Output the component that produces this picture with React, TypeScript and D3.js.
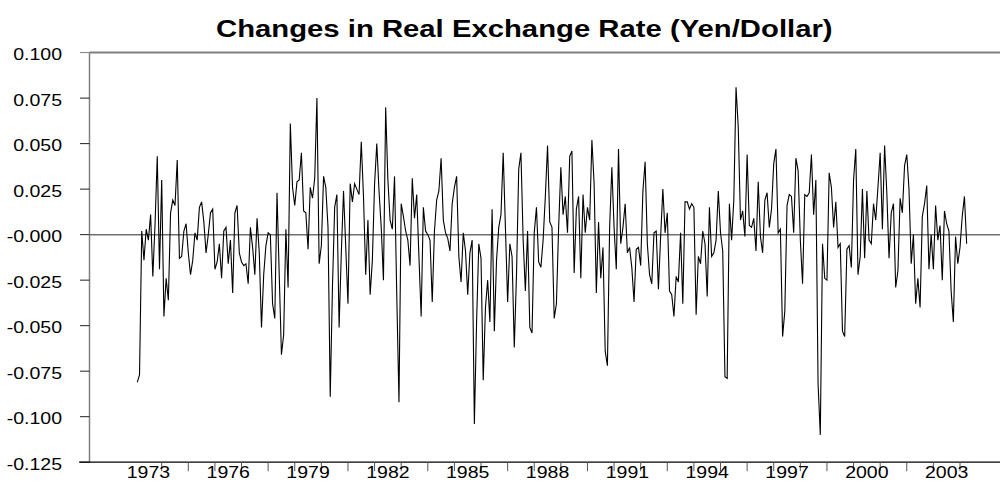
import * as d3 from "d3";

// monthly log changes, first observation 1973:02
const changes: number[] = [
  -0.081, -0.077, 0.002, -0.014, 0.003, -0.003, 0.011, -0.023, 0.006, 0.043,
  -0.019, 0.030, -0.045, -0.024, -0.036, 0.012, 0.019, 0.016, 0.041, -0.013,
  -0.012, 0.002, 0.006, -0.010, -0.022, -0.014, 0.001, -0.003, 0.015, 0.018,
  0.007, -0.010, 0.000, 0.012, 0.014, -0.019, -0.015, -0.005, -0.024, 0.002,
  0.004, -0.016, -0.003, -0.032, 0.012, 0.016, -0.010, -0.015, -0.017, -0.016,
  -0.027, 0.004, -0.007, -0.022, 0.009, -0.010, -0.051, -0.022, -0.006, 0.001,
  0.000, -0.038, -0.046, 0.023,
  -0.022, -0.066, -0.055, 0.003, -0.029, 0.061, 0.026, 0.016, 0.029, 0.030,
  0.045, 0.013, 0.012, -0.008, 0.026, 0.020, 0.031, 0.075, -0.016, -0.006,
  0.032, 0.026, 0.004, -0.089, -0.029, 0.015, 0.022, -0.051, -0.010, 0.024,
  -0.007, -0.038, 0.028, 0.018, 0.028, 0.025, 0.022, 0.051, 0.021, -0.022,
  0.008, -0.033, -0.014, 0.028, 0.050, 0.024, 0.004, -0.025, 0.070, 0.030,
  0.008, 0.003, 0.032, -0.033, -0.092, 0.017, 0.010, 0.002, -0.003, -0.017,
  0.031, 0.009, 0.022, -0.012, -0.045, 0.015, 0.002, 0.000, -0.003, -0.037,
  0.002, 0.019, 0.024, 0.042, 0.008, 0.001, -0.002, -0.009, 0.017, 0.026,
  0.032, -0.012, -0.026, 0.001, -0.009, -0.033,
  -0.010, -0.003, -0.104, -0.048,
  -0.005, -0.013, -0.080, -0.040, -0.025, -0.048, 0.014, -0.053, -0.014, 0.004,
  0.011, 0.045, 0.004, -0.037, -0.005, -0.012, -0.062, -0.022, 0.036, 0.045,
  -0.003, -0.031, 0.002, -0.051, -0.054, 0.001, 0.015, -0.015, -0.018, -0.003,
  0.021, 0.049, 0.007, 0.004, -0.046, -0.038, 0.004, 0.037, 0.011, 0.021,
  0.001, 0.043, 0.046, -0.021, 0.014, 0.021, -0.024, 0.022, 0.001, 0.015,
  0.008, 0.052, 0.028, -0.032, 0.007, -0.024, -0.007, -0.064, -0.072, 0.004,
  0.037, 0.004, -0.019, 0.047, -0.005, 0.004, 0.017, -0.010, -0.007, -0.018,
  -0.037, -0.008, -0.007, -0.017, 0.024, 0.040, -0.005, -0.022, -0.027, 0.001,
  0.002, -0.030,
  -0.001, 0.025, 0.001, 0.012, -0.031, -0.033, -0.045, -0.023, -0.026, 0.001,
  -0.038, 0.018, 0.018, 0.014, 0.017, 0.015, -0.044, -0.012, -0.016, 0.002,
  -0.005, -0.034, 0.015, -0.012, -0.010, -0.003, 0.024, 0.001, -0.009, -0.078,
  -0.079, 0.017, -0.003, 0.019, 0.081, 0.059, 0.008, 0.013, -0.001, 0.044,
  0.005, 0.004, 0.009, -0.009, 0.029, -0.001, -0.010, 0.019, 0.023, 0.004,
  0.014, 0.039, 0.047, 0.001, 0.003, -0.056, -0.042, 0.016, 0.022, 0.021,
  0.001, 0.042, 0.035, -0.003, -0.027, 0.022, 0.021, 0.023, 0.044, 0.011,
  0.030, -0.082, -0.110, -0.005, -0.024, -0.025, 0.034, 0.026, 0.004, 0.018,
  -0.007, -0.005, -0.053, -0.056, -0.008, -0.006,
  -0.018, 0.030, 0.047, -0.022, -0.012, 0.025, -0.013, 0.024, -0.003, -0.005,
  0.017, 0.008, 0.026, 0.045, 0.003, 0.049, 0.023, -0.013, 0.012, 0.017,
  -0.029, -0.020, 0.020, 0.012, 0.038, 0.044, 0.025, -0.016, 0.000, -0.038,
  -0.024, -0.040, 0.010, 0.017, 0.027, -0.019, 0.000, -0.019, 0.016, -0.003,
  0.005, -0.025, 0.013, 0.006, 0.002, -0.031, -0.048, -0.001, -0.016, -0.007,
  0.010, 0.021, -0.005,
];
const startYear = 1973;
const startMonth = 2;

const yTicks = [0.1, 0.075, 0.05, 0.025, 0, -0.025, -0.05, -0.075, -0.1, -0.125];
const yTickLabels = ["0.100", "0.075", "0.050", "0.025", "-0.000", "-0.025", "-0.050", "-0.075", "-0.100", "-0.125"];
const xTickYears = [1974, 1975, 1976, 1977, 1978, 1979, 1980, 1981, 1982, 1983, 1984, 1985, 1986, 1987, 1988,
  1989, 1990, 1991, 1992, 1993, 1994, 1995, 1996, 1997, 1998, 1999, 2000, 2001, 2002, 2003, 2004];
const xLabelYears = [1973, 1976, 1979, 1982, 1985, 1988, 1991, 1994, 1997, 2000, 2003];

const W = 1000;
const H = 491;
const left = 89.5;
const right = 1000;
const top = 52.6;
const bottom = 462.2;
const font = "'Liberation Sans', Arial, Helvetica, sans-serif";

export default function App() {
  const x = d3.scaleLinear().domain([1974, 2004]).range([161.7, 960]);
  const y = d3.scaleLinear().domain([-0.125, 0.1]).range([bottom, top]);

  const pts = changes.map((v, i) => ({ t: startYear + (startMonth - 1 + i) / 12, v }));
  const line = d3.line<{ t: number; v: number }>().x(d => x(d.t)).y(d => y(d.v));

  return (
    <svg width={W} height={H} style={{ position: "absolute", left: 0, top: 0, background: "#fff" }}>
      {/* the original picture is stretched sideways, so the text is too */}
      <text transform="translate(216,36.7) scale(1.22,1)" fontFamily={font} fontWeight="bold" fontSize={24} fill="#000">
        Changes in Real Exchange Rate (Yen/Dollar)
      </text>

      {/* frame */}
      <line x1={left} x2={right} y1={top} y2={top} stroke="#7f7f7f" strokeWidth={2} />
      <line x1={left} x2={left} y1={top} y2={bottom} stroke="#7f7f7f" strokeWidth={1.5} />

      {yTicks.map((t, i) => (
        <g key={t}>
          <line x1={80} x2={left} y1={y(t)} y2={y(t)} stroke={i === 0 ? "#7f7f7f" : "#222"} strokeWidth={1} />
          <text transform={`translate(62,${y(t) + 7.5}) scale(1.22,1)`} textAnchor="end"
            fontFamily={font} fontSize={16} fill="#000">{yTickLabels[i]}</text>
        </g>
      ))}

      <line x1={left} x2={right} y1={y(0)} y2={y(0)} stroke="#707070" strokeWidth={1.5} />

      <line x1={79} x2={right} y1={bottom} y2={bottom} stroke="#000" strokeWidth={1.2} />
      {xTickYears.map(yr => (
        <line key={yr} x1={x(yr)} x2={x(yr)} y1={bottom} y2={bottom + 9} stroke="#555" strokeWidth={1} />
      ))}
      {xLabelYears.map(yr => (
        <text key={yr} transform={`translate(${x(yr + 0.5)},478.3) scale(1.22,1)`} textAnchor="middle"
          fontFamily={font} fontSize={16} fill="#000">{yr}</text>
      ))}

      <path d={line(pts) ?? ""} fill="none" stroke="#000" strokeWidth={1.1} strokeLinejoin="miter" />
    </svg>
  );
}
